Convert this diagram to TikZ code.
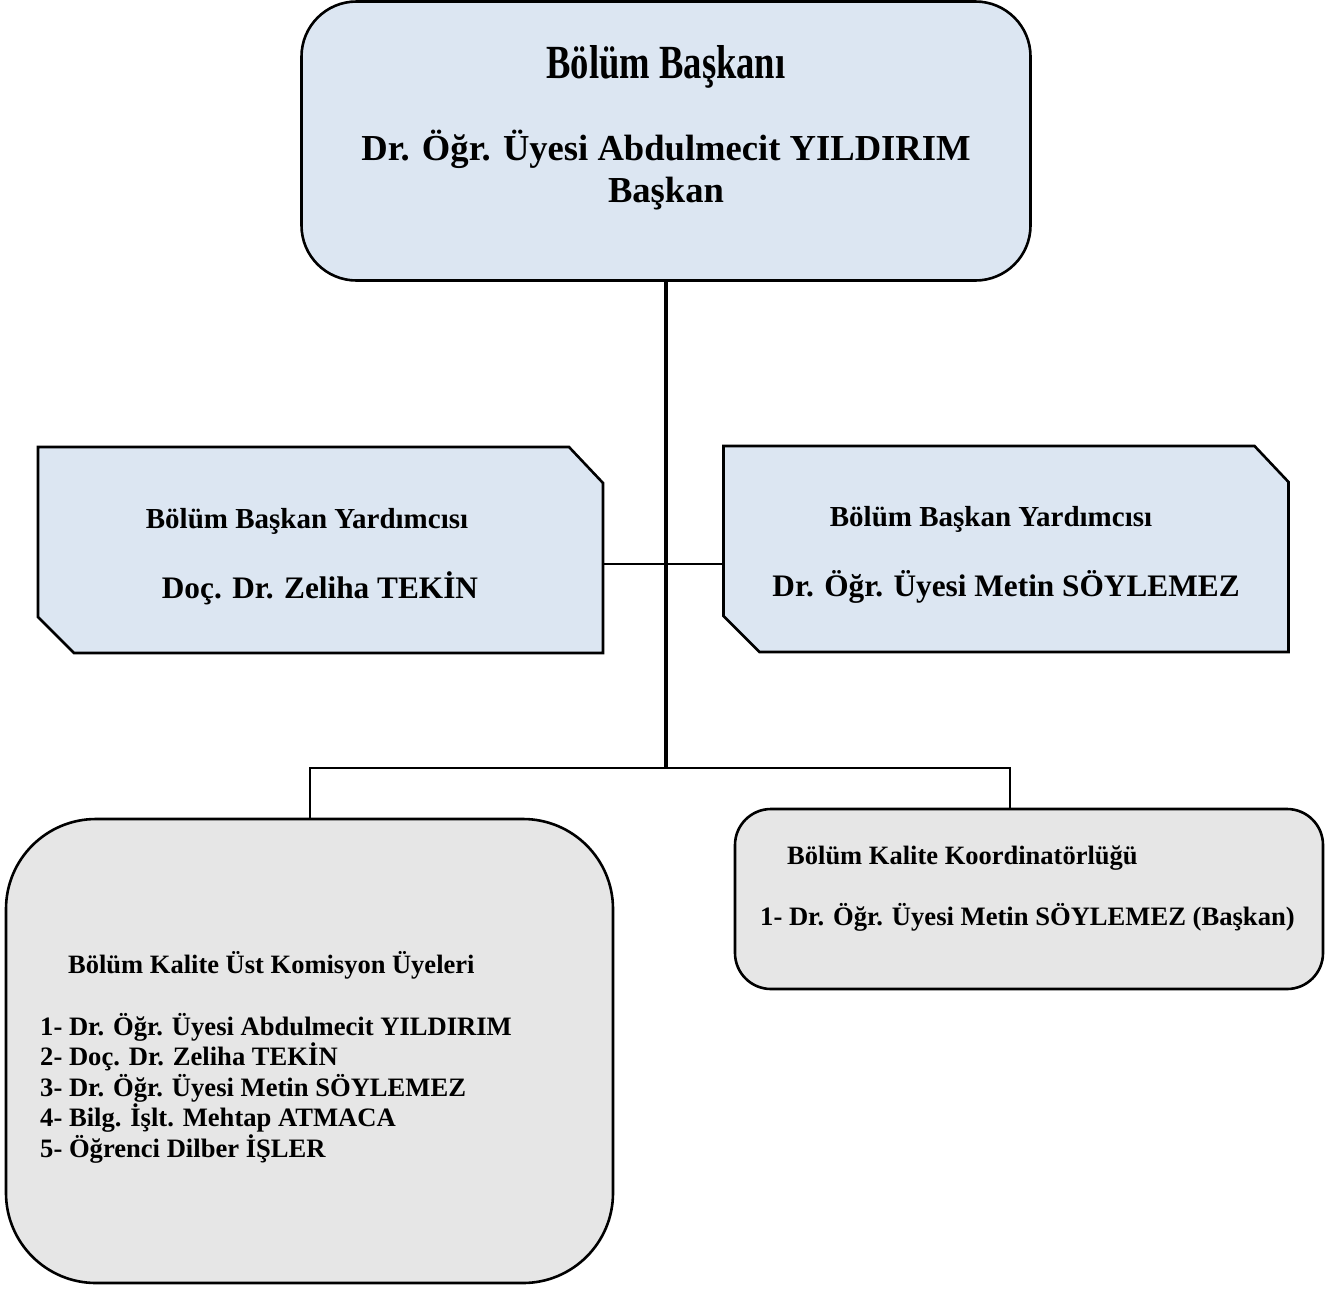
\documentclass[tikz,border=0pt]{standalone}
\usepackage{fontspec}
\setmainfont{Liberation Serif}
\definecolor{boxblue}{HTML}{DCE6F2}
\definecolor{boxgray}{HTML}{E6E6E6}
\begin{document}
\begin{tikzpicture}[x=1pt,y=-1pt,
  frame/.style={draw=black, line width=2.6pt, inner sep=0pt, outer sep=0pt},
  headbox/.style={frame, fill=boxblue, rounded corners=55pt, minimum width=729pt, minimum height=279pt},
  deputybox/.style={inner sep=0pt, outer sep=0pt, minimum width=565pt, minimum height=206pt},
  snipped/.style={draw=black, line width=2.6pt, fill=boxblue, line join=miter},
  committeebox/.style={frame, fill=boxgray, rounded corners=90pt, minimum width=607pt, minimum height=464pt},
  coordbox/.style={frame, fill=boxgray, rounded corners=36pt, minimum width=588pt, minimum height=180pt},
  txt/.style={inner sep=0pt, anchor=base, font=\bfseries},
  ltxt/.style={inner sep=0pt, anchor=base west, font=\bfseries},
  link/.style={draw=black, line width=2pt},
  trunk/.style={draw=black, line width=4.5pt}]
\useasboundingbox (0,0) rectangle (1338,1288);

% boxes
\node[headbox] (head) at (666,141) {};
\node[deputybox] (dl) at (320.5,550) {};
\node[deputybox] (dr) at (1006,549) {};
\foreach \b in {dl,dr}{
  \path[snipped] (\b.north west) -- ([xshift=-34pt]\b.north east) -- ([yshift=-36pt]\b.north east)
    -- (\b.south east) -- ([xshift=36pt]\b.south west) -- ([yshift=36pt]\b.south west) -- cycle;
}
\node[committeebox] (com) at (309.5,1051) {};
\node[coordbox] (coord) at (1029,899) {};

% junctions
\coordinate (mid) at (666,564);
\coordinate (bar) at (666,768);
\coordinate (rstub) at (1010,768);

% connectors
\draw[link] (dl.east |- mid) -- (dr.west |- mid);
\draw[link] (com.north) |- (bar) -- (rstub) -- (rstub |- coord.north);
\draw[trunk] (head.south) -- (bar);

% texts
\node[txt, font=\bfseries\fontsize{36.6}{40}\selectfont] (t1) at (666,78) {\scalebox{1}[1.3]{Bölüm Başkanı}};
\node[txt, font=\bfseries\fontsize{36.6}{40}\selectfont] (t2) at (666,160) {Dr. Öğr. Üyesi Abdulmecit YILDIRIM};
\node[txt, font=\bfseries\fontsize{36.6}{40}\selectfont] (t3) at (666,202) {Başkan};

\node[txt, font=\bfseries\fontsize{29}{32}\selectfont] (dl1) at (307,528) {Bölüm Başkan Yardımcısı};
\node[txt, font=\bfseries\fontsize{31.3}{34}\selectfont] (dl2) at (320,598) {Doç. Dr. Zeliha TEKİN};
\node[txt, font=\bfseries\fontsize{29}{32}\selectfont] (dr1) at (991,526) {Bölüm Başkan Yardımcısı};
\node[txt, font=\bfseries\fontsize{31.3}{34}\selectfont] (dr2) at (1006,596) {Dr. Öğr. Üyesi Metin SÖYLEMEZ};

\node[ltxt, font=\bfseries\fontsize{26.5}{30}\selectfont] (c0) at (68,973) {Bölüm Kalite Üst Komisyon Üyeleri};
\node[ltxt, font=\bfseries\fontsize{26.6}{30}\selectfont] (c1) at (40,1035) {1- Dr. Öğr. Üyesi Abdulmecit YILDIRIM};
\node[ltxt, font=\bfseries\fontsize{26.6}{30}\selectfont] (c2) at (40,1065.5) {2- Doç. Dr. Zeliha TEKİN};
\node[ltxt, font=\bfseries\fontsize{26.6}{30}\selectfont] (c3) at (40,1096) {3- Dr. Öğr. Üyesi Metin SÖYLEMEZ};
\node[ltxt, font=\bfseries\fontsize{26.6}{30}\selectfont] (c4) at (40,1126.5) {4- Bilg. İşlt. Mehtap ATMACA};
\node[ltxt, font=\bfseries\fontsize{26.6}{30}\selectfont] (c5) at (40,1157) {5- Öğrenci Dilber İŞLER};

\node[ltxt, font=\bfseries\fontsize{26.5}{30}\selectfont] (k0) at (787,864) {Bölüm Kalite Koordinatörlüğü};
\node[ltxt, font=\bfseries\fontsize{26.6}{30}\selectfont] (k1) at (760,925) {1- Dr. Öğr. Üyesi Metin SÖYLEMEZ (Başkan)};
\end{tikzpicture}
\end{document}
